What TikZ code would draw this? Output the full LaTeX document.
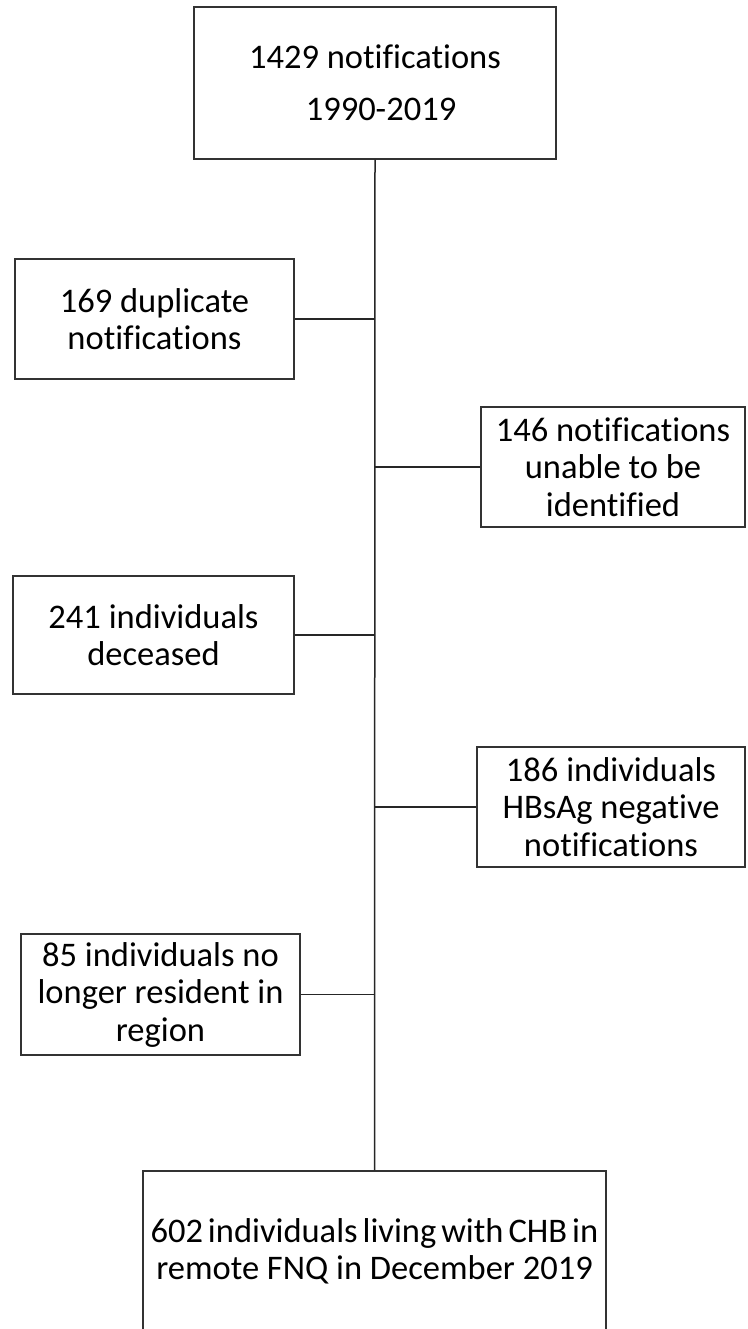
\documentclass[tikz,border=0pt]{standalone}
\usepackage{fontspec}
\setmainfont{Carlito}[Ligatures=NoCommon]
\begin{document}
\begin{tikzpicture}[x=1pt,y=-1pt,
  flowbox/.style={draw=black!80, line width=1.5pt, align=center, inner sep=0pt, font=\fontsize{34.5}{37.5}\selectfont},
  link/.style={draw=black!85, line width=1.5pt}]
\useasboundingbox (0,0) rectangle (747,1329);
%start and end
\node[flowbox, minimum width=362pt, minimum height=152pt] (total) at (375,83) {1429 notifications\\[14pt]\hspace{12pt}1990-2019};
\node[flowbox, minimum width=463pt, minimum height=161pt] (final) at (374.5,1251.5) {\spaceskip=5pt602 individuals living with CHB in\\remote FNQ in December 2019};
%excluded, left side
\node[flowbox, minimum width=279pt, minimum height=120pt] (dup) at (154.5,319) {169 duplicate\\notifications};
\node[flowbox, minimum width=281pt, minimum height=118pt] (dead) at (153.5,635) {241 individuals\\deceased};
\node[flowbox, minimum width=279pt, minimum height=121pt] (moved) at (160.5,994.5) {85 individuals no\\longer resident in\\region};
%excluded, right side
\node[flowbox, minimum width=264pt, minimum height=120pt] (unid) at (613,467) {146 notifications\\unable to be\\identified};
\node[flowbox, minimum width=268pt, minimum height=120pt] (neg) at (611,807) {186 individuals\\HBsAg negative\\notifications};
%trunk and branches
\draw[link] (total.south) -- (final.north);
\foreach \b in {dup,dead,moved,unid,neg}
  \draw[link] (\b) -- (\b -| total.south);
\end{tikzpicture}
\end{document}
